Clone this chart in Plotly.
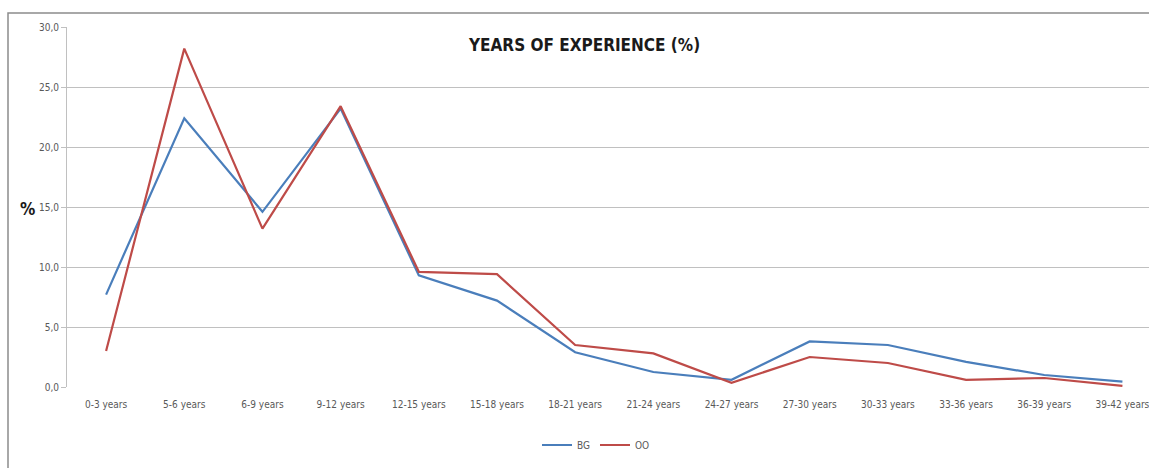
import plotly.graph_objects as go

categories = ["0-3 years", "5-6 years", "6-9 years", "9-12 years", "12-15 years",
              "15-18 years", "18-21 years", "21-24 years", "24-27 years", "27-30 years",
              "30-33 years", "33-36 years", "36-39 years", "39-42 years"]
bg_values = [7.7, 22.4, 14.6, 23.2, 9.3, 7.2, 2.9, 1.25, 0.6, 3.8, 3.5, 2.1, 1.0, 0.45]
oo_values = [3.0, 28.2, 13.2, 23.4, 9.6, 9.4, 3.5, 2.8, 0.35, 2.5, 2.0, 0.6, 0.75, 0.1]
y_ticks = [0, 5, 10, 15, 20, 25, 30]
y_tick_labels = ["0,0", "5,0", "10,0", "15,0", "20,0", "25,0", "30,0"]

W, H = 1149, 468
L, R, T, B = 67, 0, 27, 81
pw, ph = W - L - R, H - T - B

def px(x):
    return (x - L) / pw

def py(y):
    return (H - B - y) / ph

font_family = "DejaVu Sans Condensed, Liberation Sans Narrow, sans-serif"

fig = go.Figure()
fig.add_trace(go.Scatter(x=list(range(len(categories))), y=bg_values, mode="lines", name="BG",
                         line=dict(color="#4a7ebb", width=2.2)))
fig.add_trace(go.Scatter(x=list(range(len(categories))), y=oo_values, mode="lines", name="OO",
                         line=dict(color="#be4b48", width=2.2)))

fig.update_layout(
    width=W, height=H,
    margin=dict(l=L, r=R, t=T, b=B),
    paper_bgcolor="white", plot_bgcolor="white",
    font=dict(family=font_family, color="#595959", size=10),
    showlegend=True,
    legend=dict(orientation="h", x=px(596), y=py(445), xanchor="center", yanchor="middle",
                font=dict(size=10, color="#595959"), itemwidth=30, tracegroupgap=0),
    xaxis=dict(
        range=[-0.5, 13.34],
        tickmode="array", tickvals=list(range(len(categories))), ticktext=categories,
        showgrid=False, zeroline=False, showline=False,
        tickfont=dict(size=10, color="#595959"), ticks="", ticklabelstandoff=10,
        ticklabeloverflow="allow",
    ),
    yaxis=dict(
        range=[0, 30],
        tickmode="array", tickvals=y_ticks, ticktext=y_tick_labels,
        showgrid=True, gridcolor="#c0c0c0", gridwidth=1,
        zeroline=False, showline=True, linecolor="#c0c0c0", linewidth=1,
        ticks="outside", ticklen=5, tickcolor="#c0c0c0",
        tickfont=dict(size=10, color="#595959"),
    ),
)

fig.add_annotation(text="<b>YEARS OF EXPERIENCE (%)</b>", xref="paper", yref="paper",
                   x=px(584), y=py(45), xanchor="center", yanchor="middle", showarrow=False,
                   font=dict(family=font_family, size=17, color="#1a1a1a"))
fig.add_annotation(text="<b>%</b>", xref="paper", yref="paper",
                   x=px(27), y=py(209), xanchor="center", yanchor="middle", showarrow=False,
                   font=dict(family=font_family, size=17, color="#1a1a1a"))

fig.add_shape(type="rect", xref="paper", yref="paper",
              x0=px(8), x1=px(1170), y0=py(490), y1=py(13),
              line=dict(color="#8c8c8c", width=1.5), layer="below")

fig.write_html("out.html")
